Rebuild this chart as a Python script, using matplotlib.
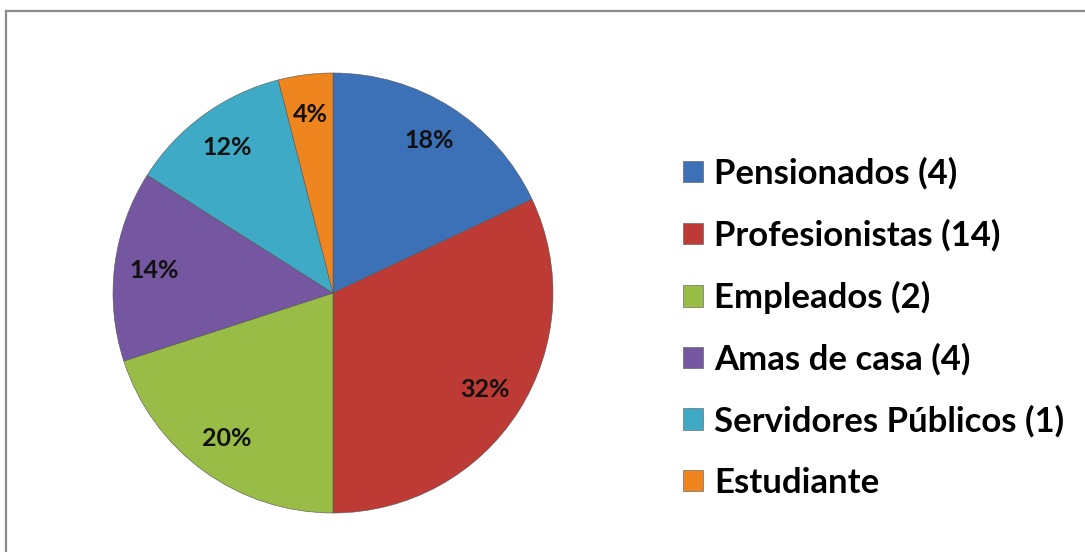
import matplotlib.pyplot as plt
from matplotlib.lines import Line2D

categories = ["Pensionados (4)", "Profesionistas (14)", "Empleados (2)",
              "Amas de casa (4)", "Servidores Públicos (1)", "Estudiante"]
shares = [18, 32, 20, 14, 12, 4]
colors = ["#3d71b7", "#be3a35", "#98bc46", "#7556a1", "#3faac5", "#ef851f"]

plt.rcParams["font.family"] = ["Lato", "DejaVu Sans"]

W, H = 1085, 552
fig = plt.figure(figsize=(W / 100, H / 100), dpi=100)

# pie axes: square box centred on (333, 293) px, radius 220 px
cx, cy, r = 333, 293, 220
ax = fig.add_axes([(cx - r) / W, (H - cy - r) / H, 2 * r / W, 2 * r / H])
wedges, texts, autotexts = ax.pie(
    shares, colors=colors, startangle=90, counterclock=False,
    autopct=lambda p: f"{p:.0f}%", pctdistance=0.82, radius=1,
    wedgeprops=dict(edgecolor="#555555", linewidth=0.4),
    textprops=dict(fontsize=18, fontweight="bold", color="#111111"))
ax.set_xlim(-1, 1)
ax.set_ylim(-1, 1)
ax.set_aspect("equal")
ax.axis("off")

fig.legend(wedges, categories, loc="center left",
           bbox_to_anchor=(683 / W, 1 - 328 / H),
           frameon=False, prop=dict(size=25, weight="bold"),
           handlelength=0.58, handleheight=0.58, handletextpad=0.32,
           labelspacing=0.84, borderpad=0, borderaxespad=0)

# grey frame (only left and top edges visible)
fx, fy = 6 / W, 1 - 11 / H
fig.add_artist(Line2D([fx, fx], [0, fy], color="#8a8a8a", lw=1.6,
                      transform=fig.transFigure))
fig.add_artist(Line2D([fx, 1], [fy, fy], color="#8a8a8a", lw=1.6,
                      transform=fig.transFigure))

fig.savefig("out.png", dpi=100)
